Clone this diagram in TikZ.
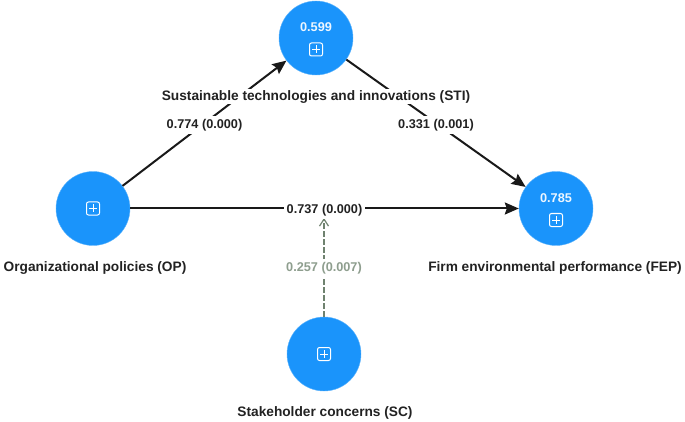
\documentclass[tikz,border=0pt]{standalone}
\usepackage{fontspec}
\setmainfont{Liberation Sans}
\usetikzlibrary{arrows.meta}
\definecolor{lvblue}{HTML}{1A94FB}
\definecolor{moder}{HTML}{8E9E8E}
\definecolor{modline}{HTML}{6F826F}
\definecolor{inktext}{HTML}{222222}
\tikzset{
  x=1pt,y=-1pt,
  latent/.style={circle,fill=lvblue,draw=lvblue!70!white,line width=0.4pt,minimum size=74pt,inner sep=0pt},
  rsq/.style={text=white!92!lvblue,font=\bfseries\fontsize{12.7}{14}\selectfont,inner sep=0pt},
  expander/.style={draw=white,line width=1pt,rounded corners=2pt,minimum size=13pt,inner sep=0pt,
    path picture={
      \draw[white,line width=1pt] (path picture bounding box.center)+(-4,0) -- +(4,0);
      \draw[white,line width=1pt] (path picture bounding box.center)+(0,-4) -- +(0,4);
    }},
  caption/.style={text=inktext,font=\bfseries\fontsize{13.7}{15}\selectfont,fill=white,inner sep=1pt,yshift=-1.5pt},
  coef/.style={text=inktext,font=\bfseries\fontsize{12.7}{14}\selectfont,fill=white,inner xsep=3pt,inner ysep=3pt,yshift=-1.5pt},
  path coef/.style={draw=black!90,line width=2pt,-{Stealth[length=14pt,width=12pt,inset=2pt]}},
  mod coef/.style={draw=modline,line width=1.2pt,dash pattern=on 6pt off 2pt,-{Straight Barb[length=7pt,width=9pt]}},
  mod text/.style={text=moder,font=\bfseries\fontsize{12.7}{14}\selectfont,fill=white,inner ysep=3pt,inner xsep=3pt,yshift=-1pt},
}
\begin{document}
\begin{tikzpicture}
\useasboundingbox (0,0) rectangle (685,422);
\node[latent] (sti) at (316,38) {};
\node[latent] (op) at (93,208.5) {};
\node[latent] (fep) at (556,208.5) {};
\node[latent] (sc) at (324,354) {};
\node[rsq] (stival) at (316,27) {0.599};
\node[rsq] (fepval) at (556,198) {0.785};
\node[expander] (stiicon) at (316,49.5) {};
\node[expander] (opicon) at (93,208.5) {};
\node[expander] (fepicon) at (556,220) {};
\node[expander] (scicon) at (324,354) {};
\node[coordinate] (modtip) at (324,218) {};
\draw[mod coef] (sc) -- node[mod text,pos=0.5] (sclab) {0.257 (0.007)} (modtip);
\draw[path coef] (op) -- node[coef,midway] (opsti) {0.774 (0.000)} (sti);
\draw[path coef] (sti) -- node[coef,midway] (stifep) {0.331 (0.001)} (fep);
\draw[path coef] (op) -- node[coef,midway] (opfep) {0.737 (0.000)} (fep);
\node[caption] (stiname) at (316,95) {Sustainable technologies and innovations (STI)};
\node[caption] (opname) at (95,266) {Organizational policies (OP)};
\node[caption] (fepname) at (555,266) {Firm environmental performance (FEP)};
\node[caption] (scname) at (325,411) {Stakeholder concerns (SC)};
\end{tikzpicture}
\end{document}
